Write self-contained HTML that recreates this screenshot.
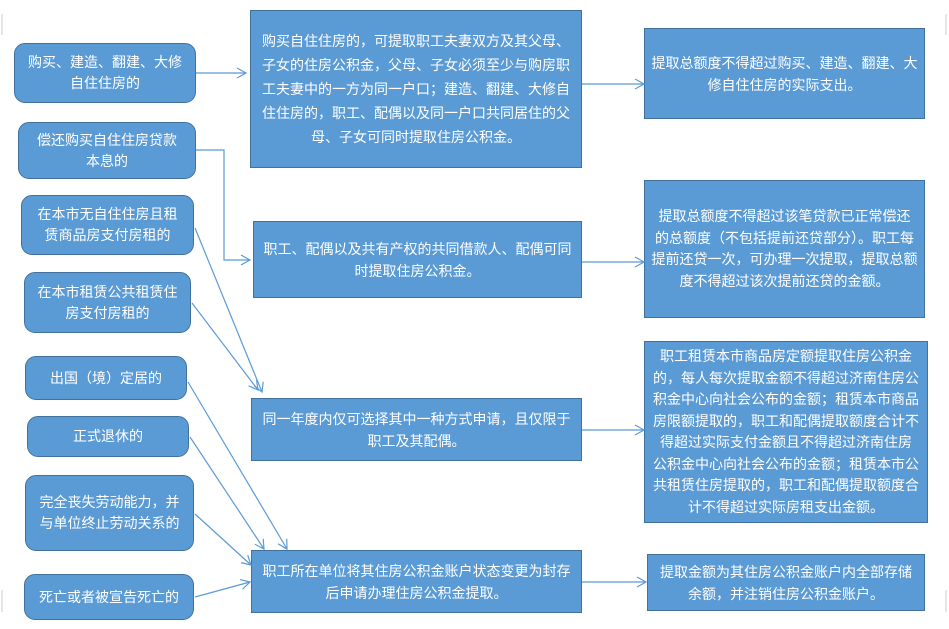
<!DOCTYPE html>
<html><head><meta charset="utf-8"><style>
body{margin:0;width:949px;height:629px;background:#fff;position:relative;overflow:hidden;font-family:"Liberation Sans","Noto Sans CJK SC",sans-serif;}
.b{position:absolute;box-sizing:border-box;background:#5b9bd5;border:1.5px solid #41719c;color:#fff;font-size:14px;display:flex;align-items:center;justify-content:center;text-align:center;white-space:nowrap;}
.r{border-radius:11px;line-height:21px;}
svg{position:absolute;left:0;top:0;}
</style></head><body>
<div class="b r" style="left:14px;top:43px;width:182px;height:60px">购买、建造、翻建、大修<br>自住住房的</div>
<div class="b r" style="left:18px;top:122px;width:178px;height:57px">偿还购买自住住房贷款<br>本息的</div>
<div class="b r" style="left:21px;top:195px;width:173px;height:60px">在本市无自住住房且租<br>赁商品房支付房租的</div>
<div class="b r" style="left:24px;top:272px;width:167px;height:61px">在本市租赁公共租赁住<br>房支付房租的</div>
<div class="b r" style="left:25px;top:356px;width:162px;height:44px">出国（境）定居的</div>
<div class="b r" style="left:27px;top:416px;width:162px;height:41px">正式退休的</div>
<div class="b r" style="left:25px;top:475px;width:169px;height:76px">完全丧失劳动能力，并<br>与单位终止劳动关系的</div>
<div class="b r" style="left:24px;top:574px;width:170px;height:46px">死亡或者被宣告死亡的</div>

<div class="b" style="left:250px;top:10px;width:332px;height:158px;line-height:24px">购买自住住房的，可提取职工夫妻双方及其父母、<br>子女的住房公积金，父母、子女必须至少与购房职<br>工夫妻中的一方为同一户口；建造、翻建、大修自<br>住住房的，职工、配偶以及同一户口共同居住的父<br>母、子女可同时提取住房公积金。</div>
<div class="b" style="left:253px;top:221px;width:329px;height:77px;line-height:22px">职工、配偶以及共有产权的共同借款人、配偶可同<br>时提取住房公积金。</div>
<div class="b" style="left:251px;top:398px;width:331px;height:63px;line-height:22px">同一年度内仅可选择其中一种方式申请，且仅限于<br>职工及其配偶。</div>
<div class="b" style="left:251px;top:550px;width:331px;height:63px;line-height:22px">职工所在单位将其住房公积金账户状态变更为封存<br>后申请办理住房公积金提取。</div>

<div class="b" style="left:644px;top:28px;width:281px;height:91px;line-height:22px">提取总额度不得超过购买、建造、翻建、大<br>修自住住房的实际支出。</div>
<div class="b" style="left:644px;top:180px;width:281px;height:138px;line-height:21.5px">提取总额度不得超过该笔贷款已正常偿还<br>的总额度（不包括提前还贷部分）。职工每<br>提前还贷一次，可办理一次提取，提取总额<br>度不得超过该次提前还贷的金额。</div>
<div class="b" style="left:644px;top:341px;width:284px;height:182px;line-height:21.5px">职工租赁本市商品房定额提取住房公积金<br>的，每人每次提取金额不得超过济南住房公<br>积金中心向社会公布的金额；租赁本市商品<br>房限额提取的，职工和配偶提取额度合计不<br>得超过实际支付金额且不得超过济南住房<br>公积金中心向社会公布的金额；租赁本市公<br>共租赁住房提取的，职工和配偶提取额度合<br>计不得超过实际房租支出金额。</div>
<div class="b" style="left:647px;top:554px;width:278px;height:57px;line-height:22px">提取金额为其住房公积金账户内全部存储<br>余额，并注销住房公积金账户。</div>

<svg width="949" height="629">
<defs><marker id="a" markerWidth="12" markerHeight="12" refX="10" refY="6" orient="auto" markerUnits="userSpaceOnUse"><path d="M1,1 L10,6 L1,11" fill="none" stroke="#5b9bd5" stroke-width="1.2"/></marker></defs>
<g stroke="#5b9bd5" stroke-width="1.2" fill="none" marker-end="url(#a)">
<line x1="196" y1="73" x2="246" y2="73"/>
<polyline points="196,150 224,150 224,260 250,260"/>
<line x1="195" y1="228" x2="262" y2="392"/>
<line x1="192" y1="303" x2="258" y2="390"/>
<line x1="188" y1="382" x2="287" y2="549"/>
<line x1="190" y1="437" x2="264" y2="549"/>
<line x1="195" y1="514" x2="251" y2="565"/>
<line x1="195" y1="597" x2="250" y2="582"/>
<line x1="582" y1="84" x2="644" y2="84"/>
<line x1="582" y1="262" x2="644" y2="262"/>
<line x1="582" y1="430" x2="644" y2="430"/>
<line x1="582" y1="582" x2="646" y2="582"/>
</g>
<g stroke="#ccc" stroke-width="1"><line x1="2" y1="14" x2="2" y2="35"/><line x1="2" y1="590" x2="2" y2="612"/><line x1="946" y1="14" x2="946" y2="35"/><line x1="946" y1="590" x2="946" y2="612"/></g>
</svg>
</body></html>
